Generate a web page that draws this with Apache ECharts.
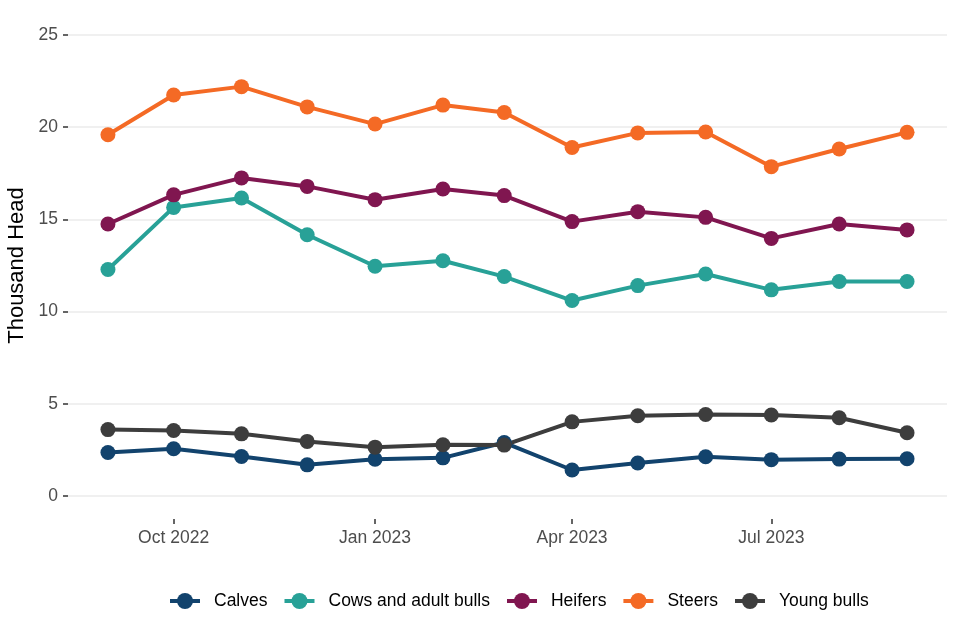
<!DOCTYPE html>
<html lang="en">
<head>
    <meta charset="UTF-8">
    <title>Thousand Head</title>
    <script src="https://cdn.jsdelivr.net/npm/echarts@6/dist/echarts.min.js"></script>
    <style>
        html, body {margin: 0; padding: 0; background: #fff;}
        #main {width: 960px; height: 640px;}
    </style>
</head>
<body>
<div id="main"></div>
<script type="text/javascript">
    // months (first of each month)
    var months = ['2022-09', '2022-10', '2022-11', '2022-12', '2023-01', '2023-02', '2023-03',
        '2023-04', '2023-05', '2023-06', '2023-07', '2023-08', '2023-09'];
    var calves = [2.36, 2.56, 2.14, 1.69, 1.99, 2.07, 2.90, 1.41, 1.79, 2.13, 1.97, 2.00, 2.02];
    var cows = [12.28, 15.65, 16.16, 14.17, 12.46, 12.76, 11.90, 10.60, 11.41, 12.04, 11.18, 11.63, 11.63];
    var heifers = [14.75, 16.33, 17.25, 16.79, 16.07, 16.65, 16.29, 14.88, 15.42, 15.11, 13.97, 14.75, 14.43];
    var steers = [19.59, 21.75, 22.20, 21.10, 20.17, 21.20, 20.80, 18.90, 19.69, 19.74, 17.86, 18.82, 19.72];
    var youngBulls = [3.60, 3.55, 3.37, 2.96, 2.65, 2.78, 2.76, 4.02, 4.35, 4.42, 4.39, 4.24, 3.43];
    var labelMonths = ['2022-10', '2023-01', '2023-04', '2023-07'];
    var yTicks = [0, 5, 10, 15, 20, 25];

    var names = ['Calves', 'Cows and adult bulls', 'Heifers', 'Steers', 'Young bulls'];
    var colors = ['#12436D', '#28A197', '#801650', '#F46A25', '#3D3D3D'];
    var values = [calves, cows, heifers, steers, youngBulls];
    var monthNames = ['Jan', 'Feb', 'Mar', 'Apr', 'May', 'Jun', 'Jul', 'Aug', 'Sep', 'Oct', 'Nov', 'Dec'];

    // days since 1970 (UTC), so the x axis keeps real month lengths
    function toDay(s) {
        var p = s.split('-');
        return Date.UTC(Number(p[0]), Number(p[1]) - 1, 1) / 86400000;
    }

    var days = months.map(toDay);
    var labelDays = labelMonths.map(toDay);
    var span = days[days.length - 1] - days[0];
    var pad = span * 0.05;

    var seriesArr = [];
    for (var i = 0; i < names.length; i++) {
        var pts = [];
        for (var j = 0; j < days.length; j++) {
            pts.push([days[j], values[i][j]]);
        }
        seriesArr.push({
            name: names[i],
            type: 'line',
            data: pts,
            symbol: 'circle',
            symbolSize: 15,
            color: colors[i],
            lineStyle: {width: 4, color: colors[i]},
            itemStyle: {color: colors[i]}
        });
    }

    var myChart = echarts.init(document.getElementById('main'));
    var option = {
        animation: false,
        textStyle: {fontFamily: 'Liberation Sans, Arial, sans-serif'},
        grid: {left: 68, right: 13, top: 35, bottom: 144, outerBoundsMode: 'none', containLabel: false},
        legend: {
            data: names,
            left: 163,
            top: 587,
            itemWidth: 30,
            itemHeight: 20,
            itemGap: 15,
            lineStyle: {width: 4},
            textStyle: {fontSize: 17.5, color: '#000', padding: [0, 0, 0, 9]}
        },
        xAxis: {
            type: 'value',
            min: days[0] - pad,
            max: days[days.length - 1] + pad,
            offset: 23,
            axisLine: {show: false, onZero: false},
            splitLine: {show: false},
            axisTick: {
                show: true,
                length: 5,
                customValues: labelDays,
                lineStyle: {color: '#333', width: 1.5}
            },
            axisLabel: {
                customValues: labelDays,
                margin: 10,
                fontSize: 17.5,
                color: '#4d4d4d',
                formatter: function (v) {
                    var d = new Date(Math.round(v) * 86400000);
                    return monthNames[d.getUTCMonth()] + ' ' + d.getUTCFullYear();
                }
            }
        },
        yAxis: {
            type: 'value',
            min: yTicks[0],
            max: yTicks[yTicks.length - 1],
            interval: 5,
            name: 'Thousand Head',
            nameLocation: 'middle',
            nameGap: 34,
            nameTextStyle: {fontSize: 22, color: '#000'},
            axisLine: {show: false, onZero: false},
            axisTick: {show: true, length: 5, lineStyle: {color: '#333', width: 1.5}},
            axisLabel: {fontSize: 17.5, color: '#4d4d4d', margin: 10},
            splitLine: {lineStyle: {color: '#ebebeb', width: 1.5}}
        },
        series: seriesArr
    };
    myChart.setOption(option);
</script>
</body>
</html>
